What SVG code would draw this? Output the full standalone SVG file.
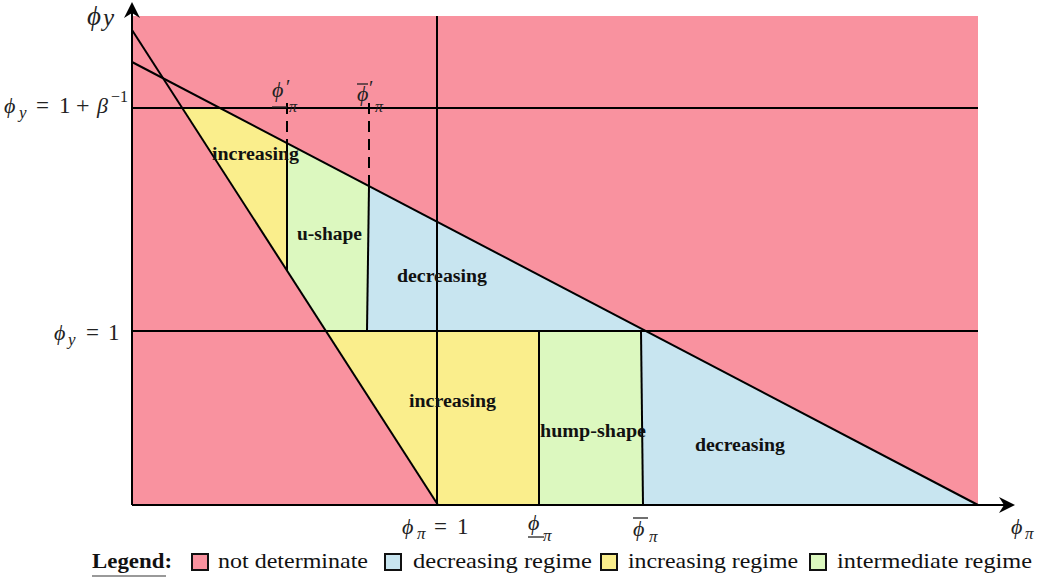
<svg xmlns="http://www.w3.org/2000/svg" width="1050" height="582" viewBox="0 0 1050 582">
<style>
.pink{fill:#F9929F}
.blue{fill:#C8E5F0}
.yel{fill:#FAEE8C}
.grn{fill:#DCF8BF}
.ln{stroke:#000;stroke-width:2;fill:none}
.dash{stroke:#000;stroke-width:2;fill:none;stroke-dasharray:11 7}
.lbl{font-family:"Liberation Serif","DejaVu Serif",serif;font-weight:bold;font-size:18px;fill:#111}
.m{font-family:"Liberation Serif","DejaVu Serif",serif;font-style:italic;fill:#222}
.r{font-family:"Liberation Serif","DejaVu Serif",serif;fill:#222}
.leg{font-family:"Liberation Serif","DejaVu Serif",serif;font-size:22px;fill:#111}
.box{stroke:#111;stroke-width:2}
.bar{stroke:#222;stroke-width:1.3}
</style>
<defs>
<marker id="arr" markerUnits="userSpaceOnUse" markerWidth="24" markerHeight="24" viewBox="-20 -12 24 24" refX="-4" refY="0" orient="auto">
<path d="M0,0 L-16,-8 L-11,0 L-16,8 Z" fill="#000"/>
</marker>
</defs>

<g id="background">
<rect class="pink" x="132" y="16" width="846" height="489"/>
</g>
<g id="region-upper-increasing"><polygon class="yel" points="182,108 220,108 287,143 287,270"/></g>
<g id="region-u-shape"><polygon class="grn" points="287,143 369,186 367,331 326,331 287,270"/></g>
<g id="region-upper-decreasing"><polygon class="blue" points="369,186 646,331 367,331"/></g>
<g id="region-lower-increasing"><polygon class="yel" points="326,331 539,331 539,505 438,505"/></g>
<g id="region-hump-shape"><polygon class="grn" points="539,331 641,331 643,505 539,505"/></g>
<g id="region-lower-decreasing"><polygon class="blue" points="641,331 646,331 978,505 643,505"/></g>

<g id="connectors">
<line class="ln" x1="132" y1="30" x2="438" y2="505"/>
<line class="ln" x1="132" y1="62" x2="978" y2="505"/>
<line class="ln" x1="132" y1="108" x2="978" y2="108"/>
<line class="ln" x1="132" y1="331" x2="978" y2="331"/>
<line class="ln" x1="437" y1="16" x2="437" y2="505"/>
<line class="dash" x1="287" y1="103" x2="287" y2="143"/>
<line class="ln" x1="287" y1="143" x2="287" y2="270"/>
<line class="dash" x1="369" y1="103" x2="369" y2="186"/>
<line class="ln" x1="369" y1="186" x2="367" y2="331"/>
<line class="ln" x1="539" y1="331" x2="539" y2="505"/>
<line class="ln" x1="641" y1="331" x2="643" y2="505"/>
<line class="ln" x1="132" y1="505" x2="132" y2="6" marker-end="url(#arr)"/>
<line class="ln" x1="132" y1="505" x2="1011" y2="505" marker-end="url(#arr)"/>
</g>

<g id="region-labels">
<text class="lbl" x="212" y="160" textLength="87" lengthAdjust="spacingAndGlyphs">increasing</text>
<text class="lbl" x="297" y="240" textLength="65" lengthAdjust="spacingAndGlyphs">u-shape</text>
<text class="lbl" x="397" y="282" textLength="90" lengthAdjust="spacingAndGlyphs">decreasing</text>
<text class="lbl" x="409" y="407" textLength="87" lengthAdjust="spacingAndGlyphs">increasing</text>
<text class="lbl" x="540" y="437" textLength="106" lengthAdjust="spacingAndGlyphs">hump-shape</text>
<text class="lbl" x="695" y="451" textLength="90" lengthAdjust="spacingAndGlyphs">decreasing</text>
</g>

<g id="axis-labels">
<text class="m" x="87" y="25" font-size="27">ϕ</text>
<text class="m" x="103" y="26" font-size="25">y</text>

<text class="m" x="4" y="113" font-size="22">ϕ</text>
<text class="m" x="19" y="118" font-size="17">y</text>
<text class="r" x="36" y="113" font-size="23">=</text>
<text class="r" x="59" y="113" font-size="23">1</text>
<text class="r" x="76" y="113" font-size="24">+</text>
<text class="m" x="97" y="113" font-size="22">β</text>
<text class="r" x="111" y="102" font-size="16">−1</text>

<text class="m" x="54" y="340" font-size="22">ϕ</text>
<text class="m" x="68" y="345" font-size="17">y</text>
<text class="r" x="86" y="340" font-size="23">=</text>
<text class="r" x="108" y="340" font-size="23">1</text>

<text class="m" x="402" y="534" font-size="22">ϕ</text>
<text class="m" x="417" y="539" font-size="17">π</text>
<text class="r" x="434" y="534" font-size="23">=</text>
<text class="r" x="457" y="534" font-size="23">1</text>

<text class="m" x="528" y="530" font-size="22">ϕ</text>
<line class="bar" x1="528" y1="537" x2="544" y2="537"/>
<text class="m" x="543" y="541" font-size="17">π</text>

<line class="bar" x1="633" y1="518" x2="648" y2="518"/>
<text class="m" x="633" y="536" font-size="22">ϕ</text>
<text class="m" x="649" y="542" font-size="17">π</text>

<text class="m" x="1011" y="534" font-size="22">ϕ</text>
<text class="m" x="1025" y="539" font-size="17">π</text>

<text class="m" x="272" y="97" font-size="22">ϕ</text>
<text class="r" x="286" y="94" font-size="20">′</text>
<line class="bar" x1="272" y1="107" x2="287" y2="107"/>
<text class="m" x="289" y="112" font-size="16">π</text>

<line class="bar" x1="357" y1="84" x2="368" y2="84"/>
<text class="m" x="357" y="101" font-size="22">ϕ</text>
<text class="r" x="369" y="95" font-size="20">′</text>
<text class="m" x="375" y="112" font-size="16">π</text>
</g>

<g id="legend">
<text class="leg" x="92" y="568" font-weight="bold" textLength="80" lengthAdjust="spacingAndGlyphs">Legend:</text>
<line x1="92" y1="576" x2="166" y2="576" stroke="#777" stroke-width="1.5"/>
<rect class="box pink" x="192" y="554" width="16" height="16"/>
<text class="leg" x="218" y="568" textLength="150" lengthAdjust="spacingAndGlyphs">not determinate</text>
<rect class="box blue" x="385" y="554" width="16" height="16"/>
<text class="leg" x="413" y="568" textLength="179" lengthAdjust="spacingAndGlyphs">decreasing regime</text>
<rect class="box yel" x="601" y="554" width="16" height="16"/>
<text class="leg" x="628" y="568" textLength="170" lengthAdjust="spacingAndGlyphs">increasing regime</text>
<rect class="box grn" x="810" y="554" width="16" height="16"/>
<text class="leg" x="837" y="568" textLength="195" lengthAdjust="spacingAndGlyphs">intermediate regime</text>
</g>
</svg>
